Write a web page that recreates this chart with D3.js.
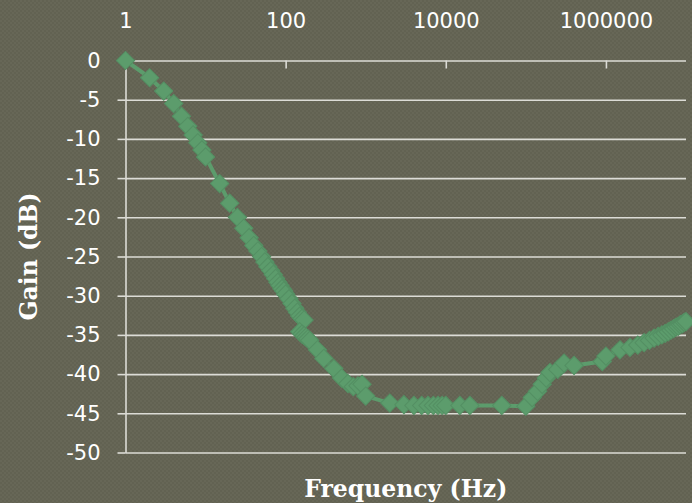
<!DOCTYPE html>
<html>
<head>
<meta charset="utf-8">
<script src="https://cdn.jsdelivr.net/npm/d3@7"></script>
<style>
  html, body { margin: 0; padding: 0; background: #636354; overflow: hidden; }
  svg { display: block; }
</style>
</head>
<body>
<svg id="chart" width="692" height="503"></svg>
<script>
// ---- data ----
const frequencies = [
  1, 2, 3, 4, 5, 6, 7, 8, 9, 10, 15, 20, 25, 30, 35, 40, 45, 50, 55, 60, 65, 70, 75, 80, 85, 90, 95, 100,
  110, 120, 130, 140, 150, 160, 170,
  150, 160, 170, 180, 190, 200, 250, 300, 400, 500, 600, 700, 800, 900, 1000,
  2000, 3000, 4000, 5000, 6000, 7000, 8000, 9000, 10000, 15000, 20000, 50000, 100000,
  120000, 140000, 160000, 180000, 200000, 250000, 300000, 400000, 900000, 1000000,
  1500000, 2000000, 2500000, 3000000, 3500000, 4000000, 4500000, 5000000, 5500000,
  6000000, 6500000, 7000000, 7500000, 8000000, 8500000, 9000000, 9500000, 10000000
];
const gains = [
  0, -2.2, -3.9, -5.5, -7.1, -8.4, -9.5, -10.5, -11.4, -12.3, -15.7, -18.2, -20.0, -21.4, -22.6, -23.6, -24.3, -25.0, -25.7, -26.3, -26.8, -27.3, -27.8, -28.3, -28.7, -29.1, -29.4, -29.8,
  -30.4, -31.0, -31.6, -32.1, -32.6, -32.9, -33.1,
  -34.6, -34.9, -35.1, -35.3, -35.5, -35.7, -36.9, -38.0, -39.3, -40.5, -41.2, -41.6, -41.5, -41.3, -42.8,
  -43.7, -43.9, -44.0, -44.0, -44.0, -44.0, -44.0, -44.0, -44.0, -44.0, -44.0, -44.0, -44.1,
  -43.0, -42.2, -41.3, -40.5, -39.8, -39.4, -38.6, -38.9, -38.4, -37.7,
  -36.9, -36.6, -36.3, -36.0, -35.7, -35.4, -35.2, -35.0, -34.8,
  -34.6, -34.4, -34.2, -34.0, -33.9, -33.7, -33.6, -33.4, -33.3
];
const xTickValues = [1, 100, 10000, 1000000];
const xTickLabels = ["1", "100", "10000", "1000000"];
const yTickValues = [0, -5, -10, -15, -20, -25, -30, -35, -40, -45, -50];
const xTitle = "Frequency (Hz)";
const yTitle = "Gain (dB)";

(function () {
  // ---- layout ----
  const W = 692, H = 503;
  const pL = 125.5, pR = 686, pT = 60.5, pB = 452.5;
  const gridColor = "#dcdcd6";
  const green = "#5c9c6c";

  const svg = d3.select("#chart");

  // background texture
  const defs = svg.append("defs");
  const pat = defs.append("pattern").attr("id", "tex").attr("width", 4).attr("height", 4)
    .attr("patternUnits", "userSpaceOnUse");
  pat.append("rect").attr("width", 4).attr("height", 4).attr("fill", "#626252");
  pat.append("rect").attr("x", 0).attr("y", 0).attr("width", 2).attr("height", 2).attr("fill", "#676757");
  pat.append("rect").attr("x", 2).attr("y", 2).attr("width", 2).attr("height", 2).attr("fill", "#676757");
  svg.append("rect").attr("width", W).attr("height", H).attr("fill", "url(#tex)");

  const x = d3.scaleLog().domain([1, 1e7]).range([pL, pR]);
  const y = d3.scaleLinear().domain([-50, 0]).range([pB, pT]);

  // horizontal gridlines
  const grid = svg.append("g").attr("transform", `translate(${pL},0)`)
    .call(d3.axisLeft(y).tickValues(yTickValues).tickSize(-(pR - pL)).tickFormat(""));
  grid.select(".domain").remove();
  grid.selectAll(".tick line").attr("stroke", gridColor).attr("stroke-width", 1.6);

  // y axis with ticks and labels
  const yAxis = svg.append("g").attr("transform", `translate(${pL},0)`)
    .call(d3.axisLeft(y).tickValues(yTickValues).tickSize(8).tickSizeOuter(0).tickPadding(17)
      .tickFormat(d => String(d)));
  yAxis.select(".domain").attr("stroke", gridColor).attr("stroke-width", 1.6);
  yAxis.selectAll(".tick line").attr("stroke", gridColor).attr("stroke-width", 1.6);
  yAxis.selectAll(".tick text").attr("fill", "#ffffff")
    .style("font-family", "'DejaVu Sans', sans-serif").style("font-size", "21px");

  // top x axis
  const xAxis = svg.append("g").attr("transform", `translate(0,${pT})`)
    .call(d3.axisTop(x).tickValues(xTickValues).tickSize(-8).tickSizeOuter(0).tickPadding(33)
      .tickFormat((d, i) => xTickLabels[i]));
  xAxis.select(".domain").remove();
  xAxis.selectAll(".tick line").attr("stroke", gridColor).attr("stroke-width", 1.6);
  xAxis.selectAll(".tick text").attr("fill", "#ffffff")
    .style("font-family", "'DejaVu Sans', sans-serif").style("font-size", "21px");

  // series
  const data = frequencies.map((f, i) => ({ f, g: gains[i] }));
  svg.append("path").datum(data)
    .attr("fill", "none").attr("stroke", green).attr("stroke-width", 4).attr("stroke-linejoin", "round")
    .attr("d", d3.line().x(d => x(d.f)).y(d => y(d.g)));

  const sym = d3.symbol().type(d3.symbolSquare).size(168);
  svg.append("g").selectAll("path").data(data).join("path")
    .attr("transform", d => `translate(${x(d.f)},${y(d.g)}) rotate(45)`)
    .attr("d", sym)
    .attr("fill", green).attr("stroke", "#548f63").attr("stroke-width", 1);

  // axis titles
  svg.append("text").attr("x", (pL + pR) / 2).attr("y", 497).attr("text-anchor", "middle")
    .attr("fill", "#ffffff").style("font-family", "'DejaVu Serif', serif").style("font-weight", "bold")
    .style("font-size", "23.5px").text(xTitle);
  svg.append("text").attr("transform", `translate(37,${(pT + pB) / 2}) rotate(-90)`)
    .attr("text-anchor", "middle")
    .attr("fill", "#ffffff").style("font-family", "'DejaVu Serif', serif").style("font-weight", "bold")
    .style("font-size", "23.5px").text(yTitle);
})();
</script>
</body>
</html>
